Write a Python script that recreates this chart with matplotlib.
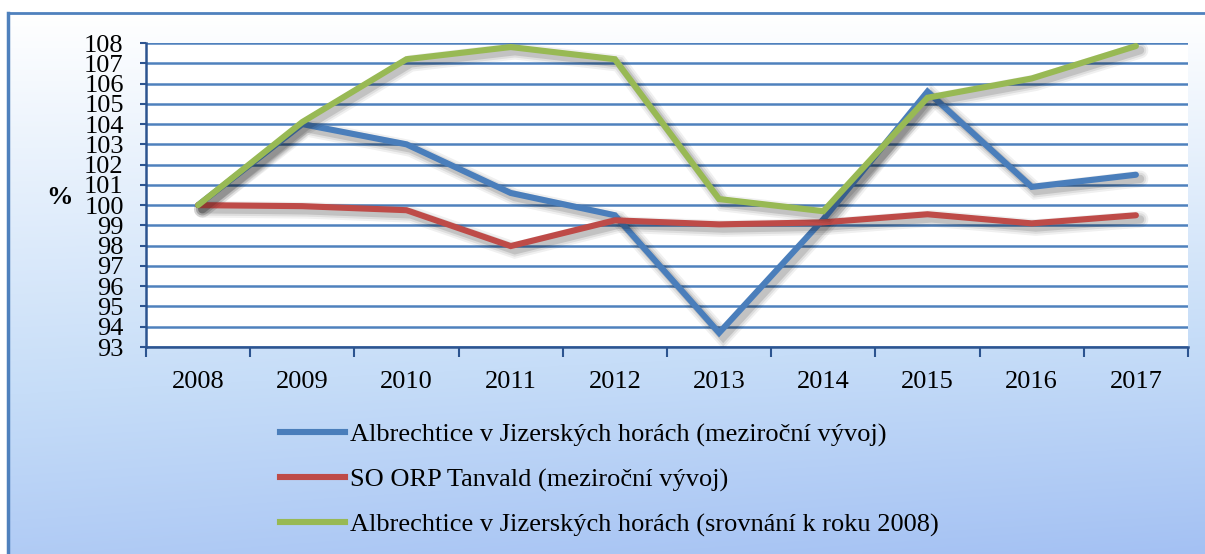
import numpy as np
import matplotlib
matplotlib.use("Agg")
import matplotlib.pyplot as plt
import matplotlib.patheffects as pe
from matplotlib.lines import Line2D

years = ["2008", "2009", "2010", "2011", "2012", "2013", "2014", "2015", "2016", "2017"]
blue_vals = [100.0, 104.0, 103.0, 100.6, 99.5, 93.7, 99.3, 105.6, 100.9, 101.5]
red_vals = [100.0, 99.95, 99.75, 97.98, 99.25, 99.05, 99.15, 99.55, 99.1, 99.5]
green_vals = [100.0, 104.1, 107.2, 107.8, 107.2, 100.3, 99.7, 105.3, 106.25, 107.85]
labels = ["Albrechtice v Jizerských horách (meziroční vývoj)",
          "SO ORP Tanvald (meziroční vývoj)",
          "Albrechtice v Jizerských horách (srovnání k roku 2008)"]
colors = ["#4a7ebb", "#be4b48", "#98b954"]
yticks = list(range(93, 109))

plt.rcParams['font.family'] = ['Liberation Serif', 'DejaVu Serif']

W, H = 1205, 554
fig = plt.figure(figsize=(W / 100, H / 100), dpi=100)

# background chart area with gradient
bg = fig.add_axes([0, 0, 1, 1])
bg.set_xlim(0, W)
bg.set_ylim(H, 0)
bg.axis('off')
ny, nx = 200, 200
yy, xx = np.mgrid[0:1:ny * 1j, 0:1:nx * 1j]
t = np.clip(0.85 * yy + 0.15 * xx * yy, 0, 1)
top = np.array([1.0, 1.0, 1.0])
mid = np.array([0xc6, 0xdd, 0xf8]) / 255
bot = np.array([0xa4, 0xc1, 0xf3]) / 255
img = np.zeros((ny, nx, 3))
for c in range(3):
    img[..., c] = np.where(t < 0.6, top[c] + (mid[c] - top[c]) * (t / 0.6),
                           mid[c] + (bot[c] - mid[c]) * ((t - 0.6) / 0.4))
bg.imshow(img, extent=[8, W, H, 13], aspect='auto', zorder=0)
bg.plot([8, W], [13, 13], color="#4f81bd", lw=2, zorder=1)
bg.plot([8, 8], [13, H], color="#4f81bd", lw=2.5, zorder=1)

ax = fig.add_axes([146 / W, 1 - 347 / H, (1188 - 146) / W, (347 - 43) / H])
ax.set_facecolor('white')
x = np.arange(len(years))

shadow = [pe.SimpleLineShadow(offset=(3, -3), shadow_color='#000000', alpha=0.06, linewidth=12),
          pe.SimpleLineShadow(offset=(3, -3), shadow_color='#000000', alpha=0.08, linewidth=9),
          pe.SimpleLineShadow(offset=(3, -3), shadow_color='#000000', alpha=0.12, linewidth=6),
          pe.Normal()]
for vals, col, lab in zip([blue_vals, red_vals, green_vals], colors, labels):
    ax.plot(x, vals, color=col, lw=4.4, solid_capstyle='round', solid_joinstyle='miter',
            path_effects=shadow, zorder=3, label=lab)

ax.set_xlim(-0.5, len(years) - 0.5)
ax.set_ylim(93, 108)
ax.set_yticks(yticks)
ax.set_yticklabels([str(v) for v in yticks], fontsize=19)
ax.yaxis.grid(True, color="#4f81bd", lw=1.8, zorder=1)
ax.set_axisbelow(True)

ax.set_xticks(np.arange(-0.5, len(years), 1.0))
ax.set_xticklabels([])
ax.set_xticks(x, minor=True)
ax.set_xticklabels(years, minor=True, fontsize=19)
ax.tick_params(axis='x', which='major', length=7, width=1.5, color="#2c5490", direction='out')
ax.tick_params(axis='x', which='minor', length=0, pad=17)
ax.tick_params(axis='y', length=4, width=1.5, color="#2c5490", pad=12)

for s in ['top', 'right']:
    ax.spines[s].set_visible(False)
ax.spines['left'].set_color("#2c5490")
ax.spines['left'].set_linewidth(1.8)
ax.spines['bottom'].set_color("#2c5490")
ax.spines['bottom'].set_linewidth(1.8)

fig.text(60 / W, 1 - 198 / H, "%", fontsize=19, fontweight='bold', ha='center', va='center')

handles = [Line2D([0], [0], color=c, lw=4.4) for c in colors]
fig.legend(handles, labels, loc='upper left', bbox_to_anchor=(280 / W, 1 - 423 / H),
           borderpad=0, borderaxespad=0,
           frameon=False, fontsize=19, handlelength=2.45, handletextpad=0.2, labelspacing=0.8)

fig.savefig("out.png", dpi=100)
